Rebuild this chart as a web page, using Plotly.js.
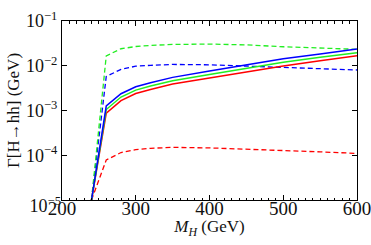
<!DOCTYPE html>
<html>
<head>
<meta charset="utf-8">
<script src="https://cdn.plot.ly/plotly-3.0.1.min.js"></script>
<style>html,body{margin:0;padding:0;background:#fff;}#chart{width:371px;height:245px;}</style>
</head>
<body>
<div id="chart"></div>
<script>
// Heavy Higgs mass (GeV)
const massMH = [240, 260, 280, 300, 320, 350, 400, 450, 500, 550, 600];

// Γ[H→hh] (GeV) for each curve
const blueSolid  = [1e-5, 0.00126, 0.00237, 0.00339, 0.00417, 0.00550, 0.00759, 0.0105, 0.0143, 0.0184, 0.0237];
const greenSolid = [1e-5, 0.00105, 0.00200, 0.00285, 0.00351, 0.00462, 0.00638, 0.00881, 0.0120, 0.0155, 0.0196];
const redSolid   = [1e-5, 0.00087, 0.00166, 0.00240, 0.00295, 0.00389, 0.00531, 0.00724, 0.00989, 0.0129, 0.0168];
const blueDashed  = [1e-5, 0.00575, 0.00832, 0.00977, 0.0102, 0.0107, 0.0105, 0.00989, 0.00923, 0.00861, 0.00804];
const greenDashed = [1e-5, 0.0166, 0.0240, 0.0269, 0.0285, 0.0299, 0.0305, 0.0292, 0.0266, 0.0248, 0.0233];
const redDashed   = [1e-5, 7.83e-5, 1.15e-4, 1.33e-4, 1.43e-4, 1.50e-4, 1.46e-4, 1.38e-4, 1.29e-4, 1.19e-4, 1.10e-4];

const yTickVals = [1e-5, 1e-4, 1e-3, 1e-2, 1e-1];
const yTickText = ['', '10<sup>−4</sup>', '10<sup>−3</sup>', '10<sup>−2</sup>', '10<sup>−1</sup>'];
const yBottomTickVals = [1e-5];
const yBottomTickText = ['10<sup>−5</sup>'];
const xTickVals = [200, 300, 400, 500, 600];
const xTickText = ['200', '300', '400', '500', '600'];

const BLUE = '#0000ff', GREEN = '#22ee22', RED = '#ff0000';
const DASH = '5px,3px';

function tr(y, color, dashed) {
  return {
    x: massMH, y: y, type: 'scatter', mode: 'lines',
    line: {color: color, width: dashed ? 1.3 : 1.5, dash: dashed ? DASH : 'solid'},
    hoverinfo: 'skip', showlegend: false
  };
}

const data = [
  tr(redDashed, RED, true),
  tr(blueDashed, BLUE, true),
  tr(greenDashed, GREEN, true),
  tr(redSolid, RED, false),
  tr(greenSolid, GREEN, false),
  tr(blueSolid, BLUE, false),
  // empty traces that only carry the label-only axes
  {x: [], y: [], type: 'scatter', mode: 'lines', xaxis: 'x2', yaxis: 'y', showlegend: false, hoverinfo: 'skip'},
  {x: [], y: [], type: 'scatter', mode: 'lines', xaxis: 'x', yaxis: 'y2', showlegend: false, hoverinfo: 'skip'}
];

const FAMILY = 'Liberation Serif, Times New Roman, serif';
function f(size) { return {family: FAMILY, size: size, color: '#111'}; }

const layout = {
  width: 371, height: 245,
  margin: {l: 62, r: 14, t: 21, b: 45},
  paper_bgcolor: '#fff', plot_bgcolor: '#fff',
  font: f(18),
  showlegend: false,
  xaxis: {
    range: [200, 600], tickvals: xTickVals, ticktext: xTickText,
    ticks: 'inside', ticklen: 5, tickwidth: 1, tickcolor: '#000',
    minor: {dtick: 10, ticks: 'inside', ticklen: 2.5, tickcolor: '#000', tickwidth: 1},
    showline: true, linecolor: '#000', linewidth: 1, mirror: 'ticks',
    showgrid: false, zeroline: false, showticklabels: false,
    title: {text: '<i>M</i><sub><i>H</i></sub> (GeV)', font: f(17), standoff: 20}
  },
  xaxis2: {
    overlaying: 'x', matches: 'x', anchor: 'free', position: 0.03, side: 'bottom',
    range: [200, 600], tickvals: xTickVals, ticktext: xTickText,
    ticks: '', showline: false, showgrid: false, zeroline: false,
    tickfont: f(19), ticklabeloverflow: 'allow'
  },
  yaxis: {
    type: 'log', range: [-5, -1], tickvals: yTickVals, ticktext: yTickText,
    ticks: 'inside', ticklen: 5, tickwidth: 1, tickcolor: '#000',
    showline: true, linecolor: '#000', linewidth: 1, mirror: 'ticks',
    showgrid: false, zeroline: false,
    tickfont: f(18),
    title: {text: 'Γ[H→hh] (GeV)', font: f(17), standoff: 2}
  },
  yaxis2: {
    type: 'log', overlaying: 'y', matches: 'y', anchor: 'x', side: 'left',
    range: [-5, -1], tickvals: yBottomTickVals, ticktext: yBottomTickText,
    ticks: '', showline: false, showgrid: false, zeroline: false,
    tickfont: f(18), ticklabelshift: 6, ticklabeloverflow: 'allow'
  }
};

Plotly.newPlot('chart', data, layout, {displayModeBar: false, staticPlot: true});
</script>
</body>
</html>
